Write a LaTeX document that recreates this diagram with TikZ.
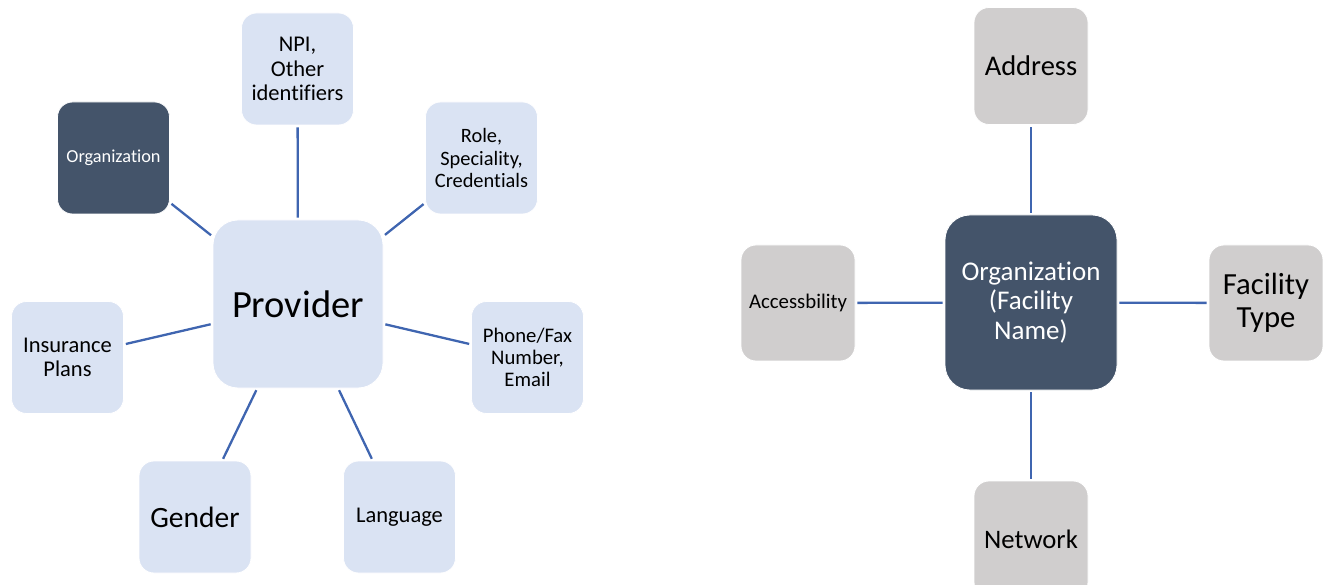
\documentclass[tikz,border=0pt]{standalone}
\usepackage{fontspec}
\setmainfont{Carlito}[Ligatures={NoCommon,NoRare}]
\usepackage{tikz}
\pgfdeclarelayer{bg}
\pgfsetlayers{bg,main}

\definecolor{boxblue}{HTML}{DAE3F3}
\definecolor{boxdark}{HTML}{44546A}
\definecolor{boxgray}{HTML}{D0CECE}
\definecolor{linkblue}{HTML}{3F65B0}

\tikzset{
    box/.style={rectangle, rounded corners=15pt, draw=white, line width=0.8pt,
        minimum width=112pt, minimum height=112pt, inner sep=0pt, align=center},
    bluebox/.style={box, fill=boxblue, text=black},
    darkbox/.style={box, fill=boxdark, text=white},
    graybox/.style={box, fill=boxgray, text=black},
    bigbox/.style={rounded corners=25pt},
    link/.style={draw=linkblue, line width=2.3pt, shorten <=2pt, shorten >=2pt},
}
\newcommand{\fsz}[2]{\fontsize{#1}{#2}\selectfont}

\begin{document}
\begin{tikzpicture}[x=1pt, y=-1pt]
    \useasboundingbox (0,0) rectangle (1323,585);

    % provider side
    \node (prov) [bluebox, bigbox, minimum width=170pt, minimum height=168pt, font=\fsz{38.5}{44}] at (298, 304) {Provider};
    \node (npi) [bluebox, font=\fsz{22.5}{24.5}] at (297.5, 69) {NPI,\\Other\\identifiers};
    \node (org) [darkbox, font=\fsz{18.3}{21}] at (113.5, 158) {Organization};
    \node (role) [bluebox, font=\fsz{20.4}{22.3}] at (481.5, 158) {Role,\\Speciality,\\Credentials};
    \node (ins) [bluebox, font=\fsz{22.5}{24.3}] at (67.5, 357.5) {Insurance\\Plans};
    \node (phone) [bluebox, font=\fsz{20.7}{22.3}] at (527.5, 357.5) {Phone/Fax\\Number,\\Email};
    \node (gend) [bluebox, font=\fsz{29.5}{34}] at (195, 517) {Gender};
    \node (lang) [bluebox, font=\fsz{22.5}{26}] at (399.5, 517) {Language};

    % organization side
    \node (fac) [darkbox, bigbox, minimum width=172pt, minimum height=175pt, font=\fsz{27}{29.5}] at (1031, 302.5) {Organization\\(Facility\\Name)};
    \node (addr) [graybox, minimum width=114pt, minimum height=117pt, font=\fsz{28.5}{33}] at (1031, 66) {Address};
    \node (acc) [graybox, minimum width=114pt, minimum height=116pt, font=\fsz{20.8}{24}] at (798, 303) {Accessbility};
    \node (ftype) [graybox, minimum width=114pt, minimum height=116pt, font=\fsz{30.7}{32.5}] at (1266, 303) {Facility\\Type};
    \node (net) [graybox, minimum width=114pt, minimum height=116pt, font=\fsz{26.7}{31}] at (1031, 539) {Network};

    \begin{pgfonlayer}{bg}
        \draw (prov) edge[link] (npi);
        \draw (prov) edge[link] (org);
        \draw (prov) edge[link] (role);
        \draw (prov) edge[link] (ins);
        \draw (prov) edge[link] (phone);
        \draw (prov) edge[link] (gend);
        \draw (prov) edge[link] (lang);
        \draw (fac) edge[link] (addr);
        \draw (fac) edge[link] (acc);
        \draw (fac) edge[link] (ftype);
        \draw (fac) edge[link] (net);
    \end{pgfonlayer}
\end{tikzpicture}
\end{document}
